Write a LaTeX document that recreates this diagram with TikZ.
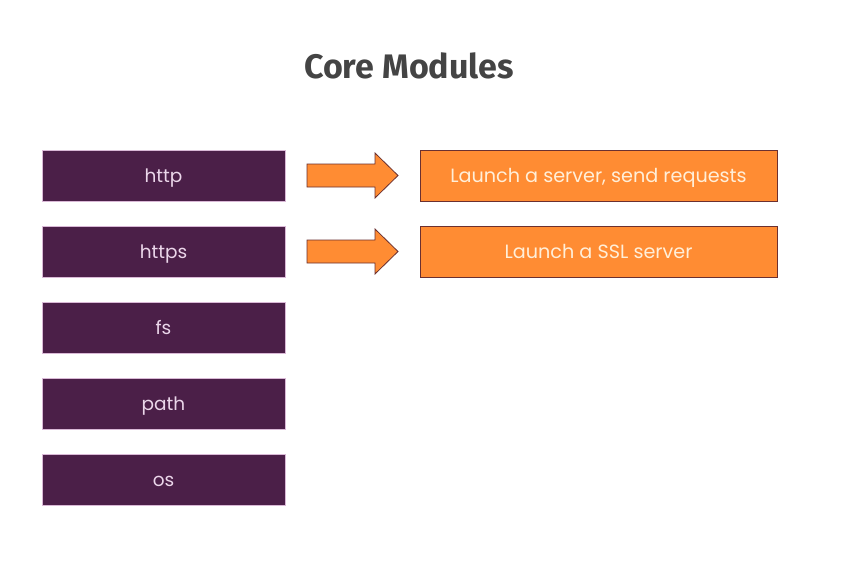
\documentclass[tikz,border=0pt]{standalone}
\usepackage{fontspec}
\setmainfont{Poppins}
\newfontfamily\titlefont{Fira Sans}
\definecolor{modfill}{HTML}{4B1F48}
\definecolor{modedge}{HTML}{D9B8D6}
\definecolor{modtext}{HTML}{EBD6EA}
\definecolor{usefill}{HTML}{FF8C33}
\definecolor{useedge}{HTML}{6B3030}
\definecolor{usetext}{HTML}{FFEFD9}
\definecolor{titlegray}{HTML}{444444}
\tikzset{
  modbox/.style={draw=modedge, line width=0.6pt, fill=modfill, text=modtext,
    minimum width=243pt, minimum height=51pt, inner sep=0pt,
    text height=14pt, text depth=0pt,
    font=\fontsize{18.5}{22}\selectfont},
  usebox/.style={draw=useedge, line width=0.8pt, fill=usefill, text=usetext,
    minimum width=357pt, minimum height=51pt, inner sep=0pt,
    text height=14pt, text depth=0pt,
    font=\fontsize{19.2}{23}\selectfont},
  blockarrow/.style={draw=useedge, line width=0.8pt, fill=usefill, line join=miter}
}
% block arrow pointing right, centred vertically on the given height
\newcommand\blockarrowat[1]{%
  \draw[blockarrow] (307,#1-11.5) -- (375,#1-11.5) -- (375,#1-22.5) -- (398,#1)
    -- (375,#1+22.5) -- (375,#1+11.5) -- (307,#1+11.5) -- cycle;}
\begin{document}
\begin{tikzpicture}[x=1pt,y=-1pt]
  \useasboundingbox[fill=white] (0,0) rectangle (855,565);
  \node[font=\titlefont\bfseries\fontsize{34}{38}\selectfont, text=titlegray] (title) at (409,66) {Core Modules};

  \node[modbox] (http)  at (163.5,175.5) {http};
  \node[modbox] (https) at (163.5,251.5) {https};
  \node[modbox] (fs)    at (163.5,327.5) {fs};
  \node[modbox] (path)  at (163.5,403.5) {path};
  \node[modbox] (os)    at (163.5,479.5) {os};

  \node[usebox] (server) at (598.5,175.5) {Launch a server, send requests};
  \node[usebox] (ssl)    at (598.5,251.5) {Launch a SSL server};

  \blockarrowat{175.5}
  \blockarrowat{251.5}
\end{tikzpicture}
\end{document}
